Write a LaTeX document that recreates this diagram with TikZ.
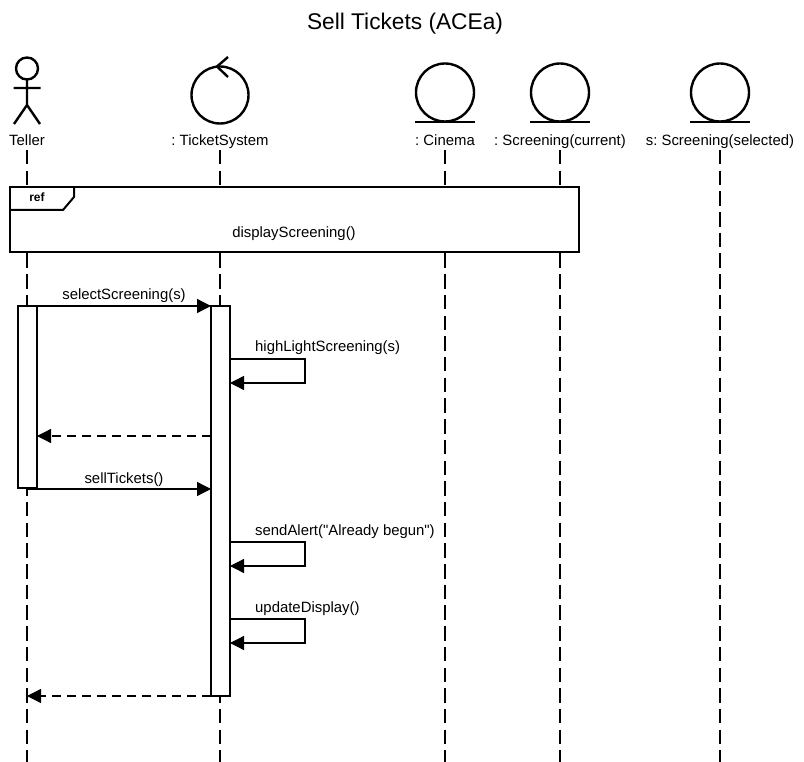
\documentclass[tikz,border=0pt]{standalone}
\usepackage{fontspec}
\setmainfont{Liberation Sans}[Ligatures=TeXOff]
\usetikzlibrary{arrows.meta}
\frenchspacing
\begin{document}
\begin{tikzpicture}[x=1pt,y=-1pt,
  lbl/.style={font=\fontsize{14.9}{17}\selectfont, inner sep=0pt, anchor=base},
  life/.style={line width=1.3pt, dash pattern=on 14.5pt off 6.2pt},
  figline/.style={line width=2.4pt},
  bar/.style={draw, fill=white, line width=1.3pt, minimum width=19pt, inner sep=0pt, outer sep=0pt},
  msg/.style={line width=1.3pt, -{Triangle[length=14pt,width=14pt]}},
  ret/.style={msg, dash pattern=on 9pt off 6pt},
]
\useasboundingbox (0,0) rectangle (804,762);
% title
\node[font=\fontsize{22.7}{26}\selectfont, inner sep=0pt, anchor=base] (title) at (405,29.3) {Sell Tickets (ACEa)};
% lifeline heads
\node[lbl] (tel) at (27,145.5) {Teller};
\node[lbl] (sys) at (220,145.5) {: TicketSystem};
\node[lbl] (cin) at (445,145.5) {: Cinema};
\node[lbl] (cur) at (560,145.5) {: Screening(current)};
\node[lbl] (sel) at (720,145.5) {s: Screening(selected)};
% lifelines
\foreach \x/\n in {27/tel,220/sys,445/cin,560/cur,720/sel}{
  \coordinate (\n top) at (\x,150);
  \coordinate (\n bot) at (\x,762);
  \draw[life] (\n top) -- (\n bot);
}
% actor
\draw[figline] (27,68.5) circle[radius=11];
\draw[figline] (27,79.5) -- (27,105) (13.5,88) -- (40.5,88) (14,124) -- (27,105) -- (40,124);
% control
\draw[figline] (220,95) circle[radius=28.5];
\draw[figline] (228,57) -- (217,66.5) -- (228,77);
% entities
\foreach \x in {445,560,720}{
  \draw[figline] (\x,92.5) circle[radius=29];
  \draw[figline] (\x-30,122) -- (\x+30,122);
}
% ref frame
\draw[line width=2.5pt, fill=white] (10,187) rectangle (579,252);
\draw[line width=2pt] (10,210) -- (63,210) -- (74,197) -- (74,187);
\node[font=\bfseries\fontsize{12}{14}\selectfont, inner sep=0pt, anchor=base] (reftag) at (37,201.7) {ref};
\node[lbl] (refname) at (294,237.5) {displayScreening()};
% activation bars
\node[bar, minimum height=182pt] (tbar) at (27.5,397) {};
\node[bar, minimum height=390pt] (sbar) at (220.5,501) {};
% messages
\coordinate (m1s) at (27,306);
\draw[msg] (m1s) -- (sbar.north west);
\node[lbl] (m1) at (124,299.8) {selectScreening(s)};

\coordinate (h1a) at (230,359);
\coordinate (h1b) at (305,359);
\coordinate (h1c) at (305,383);
\coordinate (h1d) at (230,383);
\draw[msg] (h1a) -- (h1b) -- (h1c) -- (h1d);
\node[lbl, anchor=base west] (m2) at (255,351.8) {highLightScreening(s)};

\coordinate (r1s) at (211,436);
\coordinate (r1e) at (37,436);
\draw[ret] (r1s) -- (r1e);

\coordinate (m3s) at (27,489);
\coordinate (m3e) at (211,489);
\draw[msg] (m3s) -- (m3e);
\node[lbl] (m3) at (124,483.2) {sellTickets()};

\coordinate (h2a) at (230,542);
\coordinate (h2b) at (305,542);
\coordinate (h2c) at (305,566);
\coordinate (h2d) at (230,566);
\draw[msg] (h2a) -- (h2b) -- (h2c) -- (h2d);
\node[lbl, anchor=base west] (m4) at (255,535.2) {sendAlert("Already begun")};

\coordinate (h3a) at (230,619);
\coordinate (h3b) at (305,619);
\coordinate (h3c) at (305,643);
\coordinate (h3d) at (230,643);
\draw[msg] (h3a) -- (h3b) -- (h3c) -- (h3d);
\node[lbl, anchor=base west] (m5) at (255,612.2) {updateDisplay()};

\coordinate (r2e) at (27,696);
\draw[ret] (sbar.south west) -- (r2e);
\end{tikzpicture}
\end{document}
